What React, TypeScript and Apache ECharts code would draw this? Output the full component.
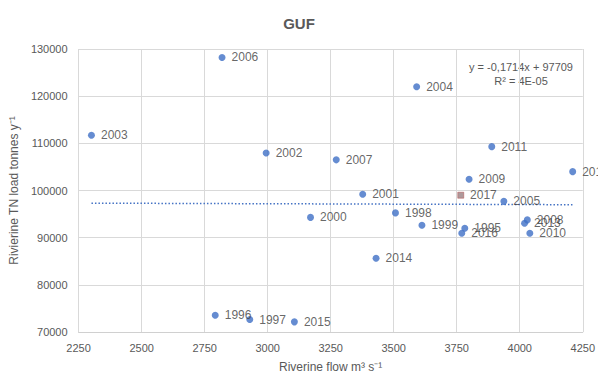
import React, { useEffect, useRef } from "react";
import * as echarts from "echarts";

const years = [
  "2003", "2006", "2002", "2004", "2011", "2007", "2009", "2012", "2001", "2017",
  "2005", "2000", "1998", "1999", "1995", "2016", "2008", "2013", "2010", "2014",
  "1996", "1997", "2015",
];
const flow = [
  2301, 2819, 2994, 3591, 3889, 3272, 3799, 4210, 3377, 3766,
  3937, 3170, 3507, 3612, 3782, 3770, 4030, 4019, 4040, 3430,
  2792, 2929, 3106,
];
const load = [
  111700, 128200, 107960, 122000, 109300, 106500, 102400, 104000, 99200, 99000,
  97700, 94300, 95250, 92650, 92000, 90950, 93770, 93070, 90950, 85650,
  73570, 72640, 72150,
];
const highlightYear = "2017";
const xTicks = { min: 2250, max: 4250, interval: 250 };
const yTicks = { min: 70000, max: 130000, interval: 10000 };
const trendSlope = -0.1714;
const trendIntercept = 97709;
const trendText = ["y = -0,1714x + 97709", "R² = 4E-05"];

export default function App() {
  const ref = useRef<HTMLDivElement>(null);
  useEffect(() => {
    const chart = echarts.init(ref.current!, null, { renderer: "svg" });
    const font = "'Liberation Sans', Arial, sans-serif";
    const data = years.map((y, i) => {
      const item: any = { value: [flow[i], load[i], y] };
      if (y === highlightYear) {
        item.symbol = "rect";
        item.symbolSize = 6;
        item.itemStyle = { color: "#9a7f82", borderColor: "#b04a4a", borderWidth: 0.6 };
      }
      return item;
    });
    const xMin = Math.min(...flow);
    const xMax = Math.max(...flow);
    const trend = [
      [xMin, trendSlope * xMin + trendIntercept],
      [xMax, trendSlope * xMax + trendIntercept],
    ];
    chart.setOption({
      animation: false,
      backgroundColor: "#ffffff",
      textStyle: { fontFamily: font },
      title: {
        text: "GUF",
        left: "center",
        top: 11,
        textStyle: { fontSize: 15, fontWeight: "bold", color: "#595959", fontFamily: font },
      },
      grid: { left: 76, right: 15, top: 49, bottom: 51 },
      xAxis: {
        type: "value",
        min: xTicks.min,
        max: xTicks.max,
        interval: xTicks.interval,
        name: "Riverine flow m³ s⁻¹",
        nameLocation: "middle",
        nameGap: 29,
        nameTextStyle: { fontSize: 12, color: "#595959", fontFamily: font },
        axisLine: { show: true, lineStyle: { color: "#d0d0d0" } },
        axisTick: { show: false },
        axisLabel: {
          fontSize: 11,
          color: "#595959",
          margin: 10,
          fontFamily: font,
          formatter: (v: number) => String(v),
        },
        splitLine: { show: true, lineStyle: { color: "#d9d9d9" } },
      },
      yAxis: {
        type: "value",
        min: yTicks.min,
        max: yTicks.max,
        interval: yTicks.interval,
        name: "Rivierine TN load tonnes y⁻¹",
        nameLocation: "middle",
        nameGap: 52,
        nameTextStyle: { fontSize: 12, color: "#595959", fontFamily: font },
        axisLine: { show: false },
        axisTick: { show: false },
        axisLabel: {
          fontSize: 11,
          color: "#595959",
          margin: 11,
          fontFamily: font,
          formatter: (v: number) => String(v),
        },
        splitLine: { show: true, lineStyle: { color: "#d9d9d9" } },
      },
      series: [
        {
          type: "line",
          data: trend,
          symbol: "none",
          silent: true,
          lineStyle: { color: "#4472C4", width: 1.5, type: [1.5, 2] },
          z: 1,
        },
        {
          type: "scatter",
          data,
          symbolSize: 7,
          itemStyle: { color: "#3f6fc6" },
          label: {
            show: true,
            position: "right",
            distance: 6,
            formatter: (p: any) => p.value[2],
            fontSize: 12,
            color: "#404040",
            fontFamily: font,
          },
          z: 3,
        },
      ],
      graphic: [
        {
          type: "text",
          x: 521,
          y: 67,
          style: {
            text: trendText[0],
            font: `11px ${font}`,
            fill: "#595959",
            textAlign: "center",
            textVerticalAlign: "middle",
          },
        },
        {
          type: "text",
          x: 521,
          y: 81,
          style: {
            text: trendText[1],
            font: `11px ${font}`,
            fill: "#595959",
            textAlign: "center",
            textVerticalAlign: "middle",
          },
        },
      ],
    });
    return () => chart.dispose();
  }, []);
  return (
    <div
      ref={ref}
      style={{ position: "fixed", left: 0, top: 0, width: 598, height: 383 }}
    />
  );
}
